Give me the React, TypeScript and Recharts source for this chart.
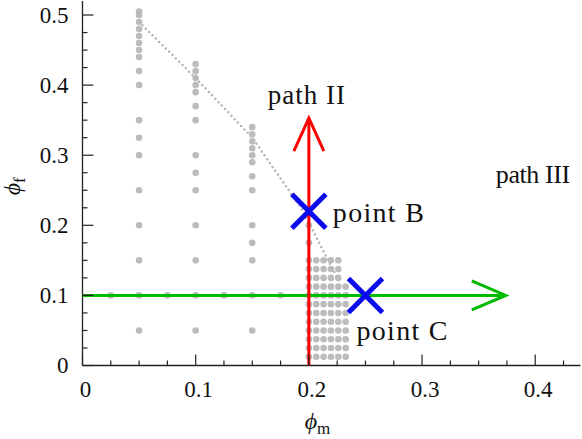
import React from "react";
import { ComposedChart, Scatter, XAxis, YAxis } from "recharts";

const xTicks = [0, 0.025, 0.05, 0.075, 0.1, 0.125, 0.15, 0.175, 0.2, 0.225, 0.25, 0.275, 0.3, 0.325, 0.35, 0.375, 0.4, 0.425];
const yTicks = [0, 0.025, 0.05, 0.075, 0.1, 0.125, 0.15, 0.175, 0.2, 0.225, 0.25, 0.275, 0.3, 0.325, 0.35, 0.375, 0.4, 0.425, 0.45, 0.475, 0.5];

// grey samples: phi_f values per phi_m column
const col005 = [0.505, 0.5, 0.49, 0.48, 0.47, 0.46, 0.45, 0.44, 0.42, 0.4, 0.35, 0.325, 0.3, 0.25, 0.2, 0.15, 0.1, 0.05];
const col010 = [0.43, 0.42, 0.41, 0.4, 0.39, 0.37, 0.35, 0.3, 0.275, 0.25, 0.2, 0.15, 0.1, 0.05];
const col015 = [0.34, 0.33, 0.32, 0.31, 0.3, 0.29, 0.27, 0.25, 0.2, 0.175, 0.15, 0.1, 0.05];
const col020 = [0.2, 0.175, 0.15, 0.1375, 0.125, 0.1125, 0.1, 0.0875, 0.075, 0.0625, 0.05, 0.0375, 0.025, 0.0125];
const row010 = [0.025, 0.075, 0.125, 0.175];
const denseX = [0.2065, 0.213, 0.2195, 0.226, 0.2325];
const denseY = [0.15, 0.1375, 0.125, 0.1125, 0.1, 0.0875, 0.075, 0.0625, 0.05, 0.0375, 0.025, 0.0125];

// dotted boundary
const hullX = [0.05, 0.1, 0.15, 0.193, 0.2245];
const hullY = [0.49, 0.41, 0.325, 0.225, 0.127];

// paths and points
const pathIIx = [0.2, 0.2];
const pathIIy = [0, 0.353];
const pathIIIx = [0, 0.374];
const pathIIIy = [0.1, 0.1];
const pointNames = ["point B", "point C"];
const pointX = [0.2, 0.25];
const pointY = [0.22, 0.1];

const samples: { x: number; y: number }[] = [];
col005.forEach((y) => samples.push({ x: 0.05, y }));
col010.forEach((y) => samples.push({ x: 0.1, y }));
col015.forEach((y) => samples.push({ x: 0.15, y }));
col020.forEach((y) => samples.push({ x: 0.2, y }));
row010.forEach((x) => samples.push({ x, y: 0.1 }));
denseY.forEach((y) => {
  const n = y >= 0.12 ? 4 : 5;
  denseX.slice(0, n).forEach((x) => samples.push({ x, y }));
});

const hull = hullX.map((x, i) => ({ x, y: hullY[i] }));
const redPath = pathIIx.map((x, i) => ({ x, y: pathIIy[i] }));
const greenPath = pathIIIx.map((x, i) => ({ x, y: pathIIIy[i] }));
const redTip = [redPath[1]];
const greenTip = [greenPath[1]];
const points = pointNames.map((name, i) => ({ x: pointX[i], y: pointY[i], name }));

const AX = "#222";
const GREY = "#bcbcbc";
const RED = "#ff0000";
const GREEN = "#00bb00";
const BLUE = "#0a0aee";
const FONT = "'Liberation Serif', 'DejaVu Serif', serif";

const isMajor = (v: number) => Math.abs(v * 10 - Math.round(v * 10)) < 1e-6;
const fmt = (v: number) => (v === 0 ? "0" : v.toFixed(1));

function BottomTick({ x, y, payload }: any) {
  const major = isMajor(payload.value);
  return (
    <g>
      <line x1={x} x2={x} y1={y} y2={y - (major ? 11 : 5)} stroke={AX} strokeWidth={1.2} />
      {major && (
        <text x={x + 3} y={y + 31.5} textAnchor="middle" fontFamily={FONT} fontSize={23} fill="#111">
          {fmt(payload.value)}
        </text>
      )}
    </g>
  );
}

function TopTick({ x, y, payload }: any) {
  const major = isMajor(payload.value);
  return <line x1={x} x2={x} y1={y} y2={y + (major ? 11 : 5)} stroke={AX} strokeWidth={1.2} />;
}

function LeftTick({ x, y, payload }: any) {
  const major = isMajor(payload.value);
  return (
    <g>
      <line x1={x} x2={x + (major ? 11 : 5)} y1={y} y2={y} stroke={AX} strokeWidth={1.2} />
      {major && (
        <text x={x - 14} y={y + 7.5} textAnchor="end" fontFamily={FONT} fontSize={23} fill="#111">
          {fmt(payload.value)}
        </text>
      )}
    </g>
  );
}

function RightTick({ x, y, payload }: any) {
  const major = isMajor(payload.value);
  return <line x1={x} x2={x - (major ? 11 : 5)} y1={y} y2={y} stroke={AX} strokeWidth={1.2} />;
}

const XTitle = (props: any) => {
  const vb = props.viewBox;
  return (
    <text x={vb.x + 235} y={vb.y + 63} textAnchor="middle" fontFamily={FONT} fontSize={24} fontStyle="italic" fill="#111">
      ϕ
      <tspan fontStyle="normal" fontSize={17} dy={5}>m</tspan>
    </text>
  );
};

const YTitle = (props: any) => {
  const vb = props.viewBox;
  const cx = 20;
  const cy = vb.y + vb.height / 2 + 3;
  return (
    <text x={cx} y={cy} transform={`rotate(-90, ${cx}, ${cy})`} textAnchor="middle" fontFamily={FONT} fontSize={24} fontStyle="italic" fill="#111">
      ϕ
      <tspan fontStyle="normal" fontSize={17} dy={5}>f</tspan>
    </text>
  );
};

const Dot = ({ cx, cy }: any) => <circle cx={cx} cy={cy} r={3.3} fill={GREY} />;
const NoShape = () => <g />;

const RedHead = ({ cx, cy }: any) => (
  <g>
    <path d={`M${cx - 15},${cy + 33} L${cx},${cy} L${cx + 15},${cy + 33}`} fill="none" stroke={RED} strokeWidth={3} />
    <text x={cx - 41} y={cy - 14} textAnchor="start" fontFamily={FONT} fontSize={27} letterSpacing={1} fill="#111">
      path II
    </text>
  </g>
);

const GreenHead = ({ cx, cy }: any) => (
  <g>
    <path d={`M${cx - 34},${cy - 14.5} L${cx},${cy} L${cx - 34},${cy + 14.5}`} fill="none" stroke={GREEN} strokeWidth={3} />
    <text x={cx - 10} y={cy - 112} textAnchor="start" fontFamily={FONT} fontSize={26} letterSpacing={-0.4} fill="#111">
      path III
    </text>
  </g>
);

const Cross = ({ cx, cy, payload }: any) => {
  const b = payload.name === "point B";
  return (
    <g>
      <path
        d={`M${cx - 17},${cy - 17} L${cx + 17},${cy + 17} M${cx - 17},${cy + 17} L${cx + 17},${cy - 17}`}
        stroke={BLUE}
        strokeWidth={5}
        fill="none"
      />
      <text
        x={b ? cx + 24 : cx - 9}
        y={b ? cy + 10.5 : cy + 45}
        textAnchor="start"
        fontFamily={FONT}
        fontSize={28}
        letterSpacing={1.3}
        fill="#111"
      >
        {payload.name}
      </text>
    </g>
  );
};

export default function App() {
  return (
    <div style={{ position: "absolute", left: 0, top: 0, width: 582, height: 439, background: "#fff" }}>
      <ComposedChart width={582} height={439} margin={{ top: 1, right: 1.5, bottom: 0, left: 0 }}>
        <XAxis
          xAxisId="b"
          dataKey="x"
          type="number"
          domain={[0, 0.44]}
          ticks={xTicks}
          interval={0}
          allowDataOverflow
          height={73.5}
          tickSize={0}
          tickMargin={0}
          tickLine={false}
          tick={<BottomTick />}
          axisLine={{ stroke: AX, strokeWidth: 1.3 }}
          label={XTitle}
        />
        <XAxis
          xAxisId="t"
          orientation="top"
          dataKey="x"
          type="number"
          domain={[0, 0.44]}
          ticks={xTicks}
          interval={0}
          allowDataOverflow
          height={0}
          tickSize={0}
          tickMargin={0}
          tickLine={false}
          tick={<TopTick />}
          axisLine={{ stroke: AX, strokeWidth: 1.3 }}
        />
        <YAxis
          yAxisId="l"
          dataKey="y"
          type="number"
          domain={[0, 0.52]}
          ticks={yTicks}
          interval={0}
          allowDataOverflow
          width={82.5}
          tickSize={0}
          tickMargin={0}
          tickLine={false}
          tick={<LeftTick />}
          axisLine={{ stroke: AX, strokeWidth: 1.3 }}
          label={YTitle}
        />
        <YAxis
          yAxisId="r"
          orientation="right"
          dataKey="y"
          type="number"
          domain={[0, 0.52]}
          ticks={yTicks}
          interval={0}
          allowDataOverflow
          width={0}
          tickSize={0}
          tickMargin={0}
          tickLine={false}
          tick={<RightTick />}
          axisLine={{ stroke: AX, strokeWidth: 1.3 }}
        />
        <Scatter xAxisId="b" yAxisId="l" data={samples} shape={Dot} isAnimationActive={false} />
        <Scatter
          xAxisId="b"
          yAxisId="l"
          data={hull}
          shape={NoShape}
          line={{ stroke: "#b4b4b4", strokeWidth: 2.5, strokeDasharray: "0 4.7", strokeLinecap: "round", fill: "none" }}
          isAnimationActive={false}
        />
        <Scatter
          xAxisId="b"
          yAxisId="l"
          data={greenPath}
          shape={NoShape}
          line={{ stroke: GREEN, strokeWidth: 3, fill: "none" }}
          isAnimationActive={false}
        />
        <Scatter
          xAxisId="b"
          yAxisId="l"
          data={redPath}
          shape={NoShape}
          line={{ stroke: RED, strokeWidth: 3, fill: "none" }}
          isAnimationActive={false}
        />
        <Scatter xAxisId="b" yAxisId="l" data={greenTip} shape={GreenHead} isAnimationActive={false} />
        <Scatter xAxisId="b" yAxisId="l" data={redTip} shape={RedHead} isAnimationActive={false} />
        <Scatter xAxisId="b" yAxisId="l" data={points} shape={Cross} isAnimationActive={false} />
      </ComposedChart>
    </div>
  );
}
